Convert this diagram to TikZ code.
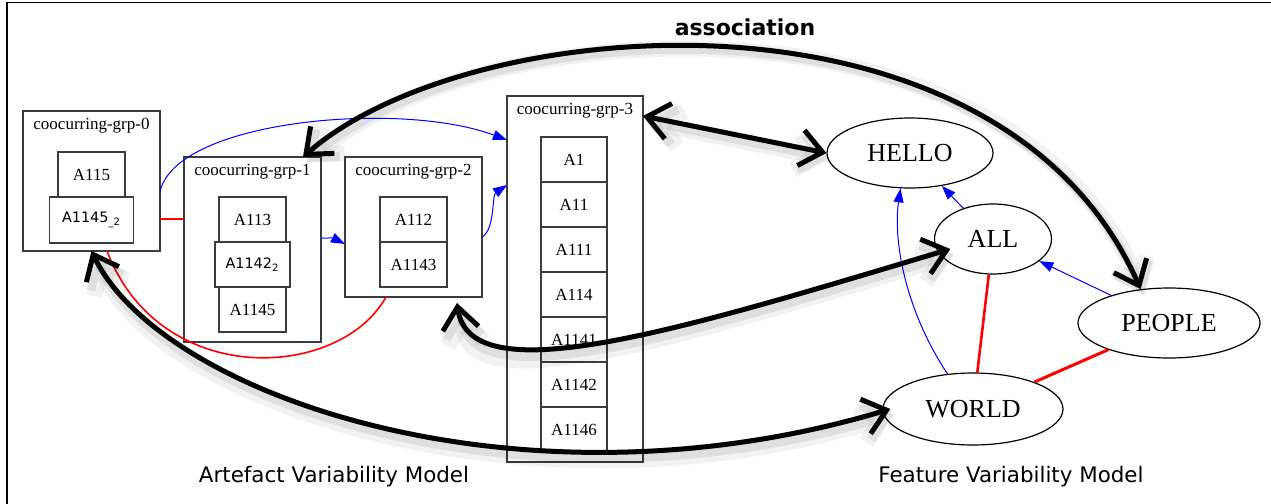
\documentclass[tikz,border=0pt]{standalone}
\usepackage{fontspec}
\setmainfont{Liberation Serif}
\newfontfamily\sansfont{DejaVu Sans}
\usetikzlibrary{shapes.geometric, arrows.meta, positioning}
\definecolor{FrameGray}{RGB}{60,60,60}
\definecolor{DepBlue}{RGB}{0,0,255}
\definecolor{ExclRed}{RGB}{255,0,0}

\begin{document}
\begin{tikzpicture}[x=0.5pt, y=-0.5pt,
          grp/.style={rectangle, draw=FrameGray, line width=0.6pt, inner sep=0pt, outer sep=0pt, anchor=north west, minimum width=68.5pt},
          grptitle/.style={inner sep=0pt, font=\fontsize{8.5}{10}\selectfont},
          item/.style={rectangle, draw=FrameGray, line width=0.6pt, inner sep=0pt, outer sep=0pt, minimum width=33.5pt, minimum height=22.5pt, font=\fontsize{8.5}{10}\selectfont},
          sansitem/.style={item, font=\sansfont\fontsize{7.2}{8}\selectfont},
          feature/.style={ellipse, draw=black, line width=0.6pt, inner sep=0pt, font=\fontsize{13}{15}\selectfont},
          dep/.style={-{Triangle[length=7pt,width=5pt]}, DepBlue, line width=0.5pt},
          excl/.style={ExclRed, line width=0.8pt},
          assoc/.style={<->, >={Straight Barb[length=11pt,width=18pt]}, line width=2.5pt,
            preaction={draw=black, opacity=0.05, line width=8pt, transform canvas={shift={(2pt,-3pt)}}},
            preaction={draw=black, opacity=0.08, line width=4.5pt, transform canvas={shift={(1.5pt,-2.5pt)}}}},
          caption/.style={font=\sansfont\fontsize{10.7}{13}\selectfont}
        ]
          \useasboundingbox (0,0) rectangle (1271,504);
          \draw [line width=0.7pt] (7,504) -- (7,2.5) -- (1271,2.5);

          \node (grp0) [grp, minimum height=70pt] at (23,111) {};
          \node (t0) [grptitle, below=3.5pt of grp0.north] {coocurring-grp-0};
          \node (a115) [item, below=20.5pt of grp0.north] {A115};
          \node (a1145b) [sansitem, minimum width=42pt, minimum height=23pt, below=0pt of a115] {A1145\textsubscript{\_2}};

          \node (grp1) [grp, minimum height=92.5pt] at (184,157) {};
          \node (t1) [grptitle, below=3.5pt of grp1.north] {coocurring-grp-1};
          \node (a113) [item, below=20pt of grp1.north] {A113};
          \node (a1142b) [sansitem, minimum width=37.5pt, below=0pt of a113] {A1142\textsubscript{2}};
          \node (a1145) [item, below=0pt of a1142b] {A1145};

          \node (grp2) [grp, minimum height=70pt] at (345,157) {};
          \node (t2) [grptitle, below=3.5pt of grp2.north] {coocurring-grp-2};
          \node (a112) [item, below=20pt of grp2.north] {A112};
          \node (a1143) [item, below=0pt of a112] {A1143};

          \node (grp3) [grp, minimum width=68pt, minimum height=183pt] at (507,96) {};
          \node (t3) [grptitle, below=3.5pt of grp3.north] {coocurring-grp-3};
          \node (a1) [item, minimum width=33pt, below=20.5pt of grp3.north, xshift=-0.5pt] {A1};
          \node (a11) [item, minimum width=33pt, below=0pt of a1] {A11};
          \node (a111) [item, minimum width=33pt, below=0pt of a11] {A111};
          \node (a114) [item, minimum width=33pt, below=0pt of a111] {A114};
          \node (a1141) [item, minimum width=33pt, below=0pt of a114] {A1141};
          \node (a1142) [item, minimum width=33pt, below=0pt of a1141] {A1142};
          \node (a1146) [item, minimum width=33pt, below=0pt of a1142] {A1146};

          \node (hello) [feature, minimum width=83pt, minimum height=35pt] at (910,153) {HELLO};
          \node (all) [feature, minimum width=58.5pt, minimum height=35pt] at (993,239) {ALL};
          \node (people) [feature, minimum width=91pt, minimum height=35pt] at (1169,323) {PEOPLE};
          \node (world) [feature, minimum width=90pt, minimum height=36pt] at (973,409) {WORLD};

          \node (assoclabel) [font=\sansfont\bfseries\fontsize{11}{13}\selectfont] at (745,27) {association};
          \node (artefact) [caption] at (334,477) {Artefact Variability Model};
          \node (featmodel) [caption] at (1011,477) {Feature Variability Model};

          \draw [dep] ([yshift=-5.5pt]grp0.east) .. controls (175,120) and (400,100) .. ([yshift=-22pt]grp3.north west);
          \draw [dep] ([yshift=5.75pt]grp1.east) .. controls (333,238) .. ([yshift=-8.5pt]grp2.west);
          \draw [dep] ([yshift=-5pt]grp2.east) .. controls (495,230) and (492,195) .. ([yshift=-44.5pt]grp3.north west);
          \coordinate (r0) at ([yshift=-19pt]grp0.east);
          \draw [excl] (r0) -- (r0 -| grp1.west);
          \draw [excl] ([xshift=-13.75pt]grp2.south) .. controls (340,380) and (160,390) .. ([xshift=7.75pt]grp0.south);

          \draw [dep] (all) -- (hello);
          \draw [dep] (people) -- (all);
          \draw [dep] (world.126) .. controls (905,310) and (893,240) .. (hello.255);
          \draw [excl, line width=1.3pt] (world) -- (all);
          \draw [excl, line width=1.5pt] (world) -- (people);

          \draw [assoc] ([xshift=-9pt]grp1.north east) .. controls (470,10) and (1000,-30) .. (people.130);
          \draw [assoc] ([yshift=-10pt]grp3.north east) -- (hello.west);
          \draw [assoc] ([xshift=-12.5pt,yshift=-3pt]grp2.south east) .. controls (470,395) and (680,330) .. ([xshift=7pt]all.190);
          \draw [assoc] (grp0.south) .. controls (160,395) and (520,520) .. ([xshift=4pt]world.west);
        \end{tikzpicture}
\end{document}
